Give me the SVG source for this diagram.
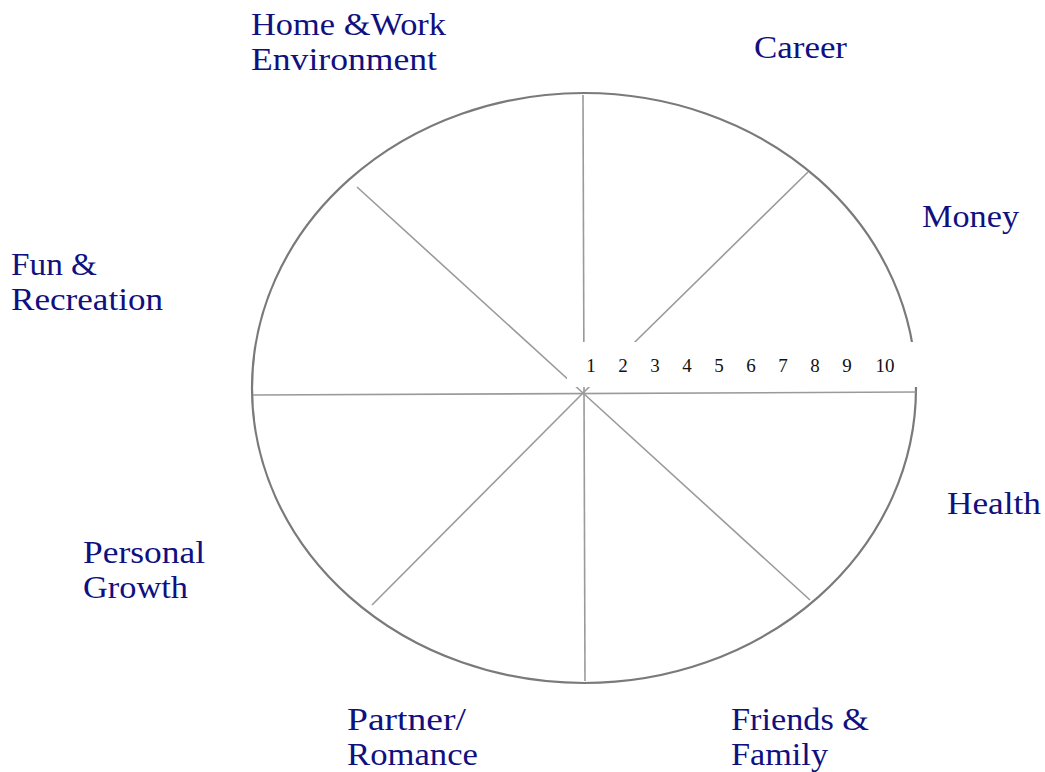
<svg xmlns="http://www.w3.org/2000/svg" width="1045" height="772" viewBox="0 0 1045 772">
<style>
.lbl{font-family:"Liberation Serif","Times New Roman",serif;font-size:31px;fill:#10107f}
.num{font-family:"Liberation Serif","Times New Roman",serif;font-size:19px;fill:#111;text-anchor:middle}
.spoke{stroke:#9a9a9a;stroke-width:1.6;fill:none}
</style>
<rect width="1045" height="772" fill="#fff"/>
<g id="wheel">
<ellipse cx="584" cy="388" rx="332" ry="295" fill="none" stroke="#7a7a7a" stroke-width="2.2"/>
</g>
<g id="connectors">
<line class="spoke" x1="583" y1="95" x2="585" y2="681"/>
<line class="spoke" x1="253" y1="395" x2="916" y2="392"/>
<line class="spoke" x1="357" y1="187" x2="583" y2="393"/>
<line class="spoke" x1="808" y1="172" x2="583" y2="393"/>
<line class="spoke" x1="372" y1="605" x2="583" y2="393"/>
<line class="spoke" x1="810" y1="600" x2="583" y2="393"/>
</g>
<g id="scale">
<rect x="567" y="342" width="362" height="45" fill="#fff"/>
<text class="num" x="591" y="372">1</text>
<text class="num" x="623" y="372">2</text>
<text class="num" x="655" y="372">3</text>
<text class="num" x="687" y="372">4</text>
<text class="num" x="719" y="372">5</text>
<text class="num" x="751" y="372">6</text>
<text class="num" x="783" y="372">7</text>
<text class="num" x="815" y="372">8</text>
<text class="num" x="847" y="372">9</text>
<text class="num" x="885" y="372">10</text>
</g>
<g id="home-work"><text class="lbl" x="251" y="35" textLength="195" lengthAdjust="spacingAndGlyphs">Home &amp;Work</text><text class="lbl" x="251" y="70" textLength="186" lengthAdjust="spacingAndGlyphs">Environment</text></g>
<g id="career"><text class="lbl" x="754" y="58" textLength="93" lengthAdjust="spacingAndGlyphs">Career</text></g>
<g id="money"><text class="lbl" x="922" y="227" textLength="97" lengthAdjust="spacingAndGlyphs">Money</text></g>
<g id="fun"><text class="lbl" x="11" y="275" textLength="86" lengthAdjust="spacingAndGlyphs">Fun &amp;</text><text class="lbl" x="11" y="310" textLength="152" lengthAdjust="spacingAndGlyphs">Recreation</text></g>
<g id="health"><text class="lbl" x="947" y="514" textLength="94" lengthAdjust="spacingAndGlyphs">Health</text></g>
<g id="personal"><text class="lbl" x="83" y="563" textLength="122" lengthAdjust="spacingAndGlyphs">Personal</text><text class="lbl" x="83" y="598" textLength="105" lengthAdjust="spacingAndGlyphs">Growth</text></g>
<g id="partner"><text class="lbl" x="347" y="730" textLength="119" lengthAdjust="spacingAndGlyphs">Partner/</text><text class="lbl" x="347" y="765" textLength="131" lengthAdjust="spacingAndGlyphs">Romance</text></g>
<g id="friends"><text class="lbl" x="731" y="730" textLength="138" lengthAdjust="spacingAndGlyphs">Friends &amp;</text><text class="lbl" x="731" y="765" textLength="97" lengthAdjust="spacingAndGlyphs">Family</text></g>
</svg>
